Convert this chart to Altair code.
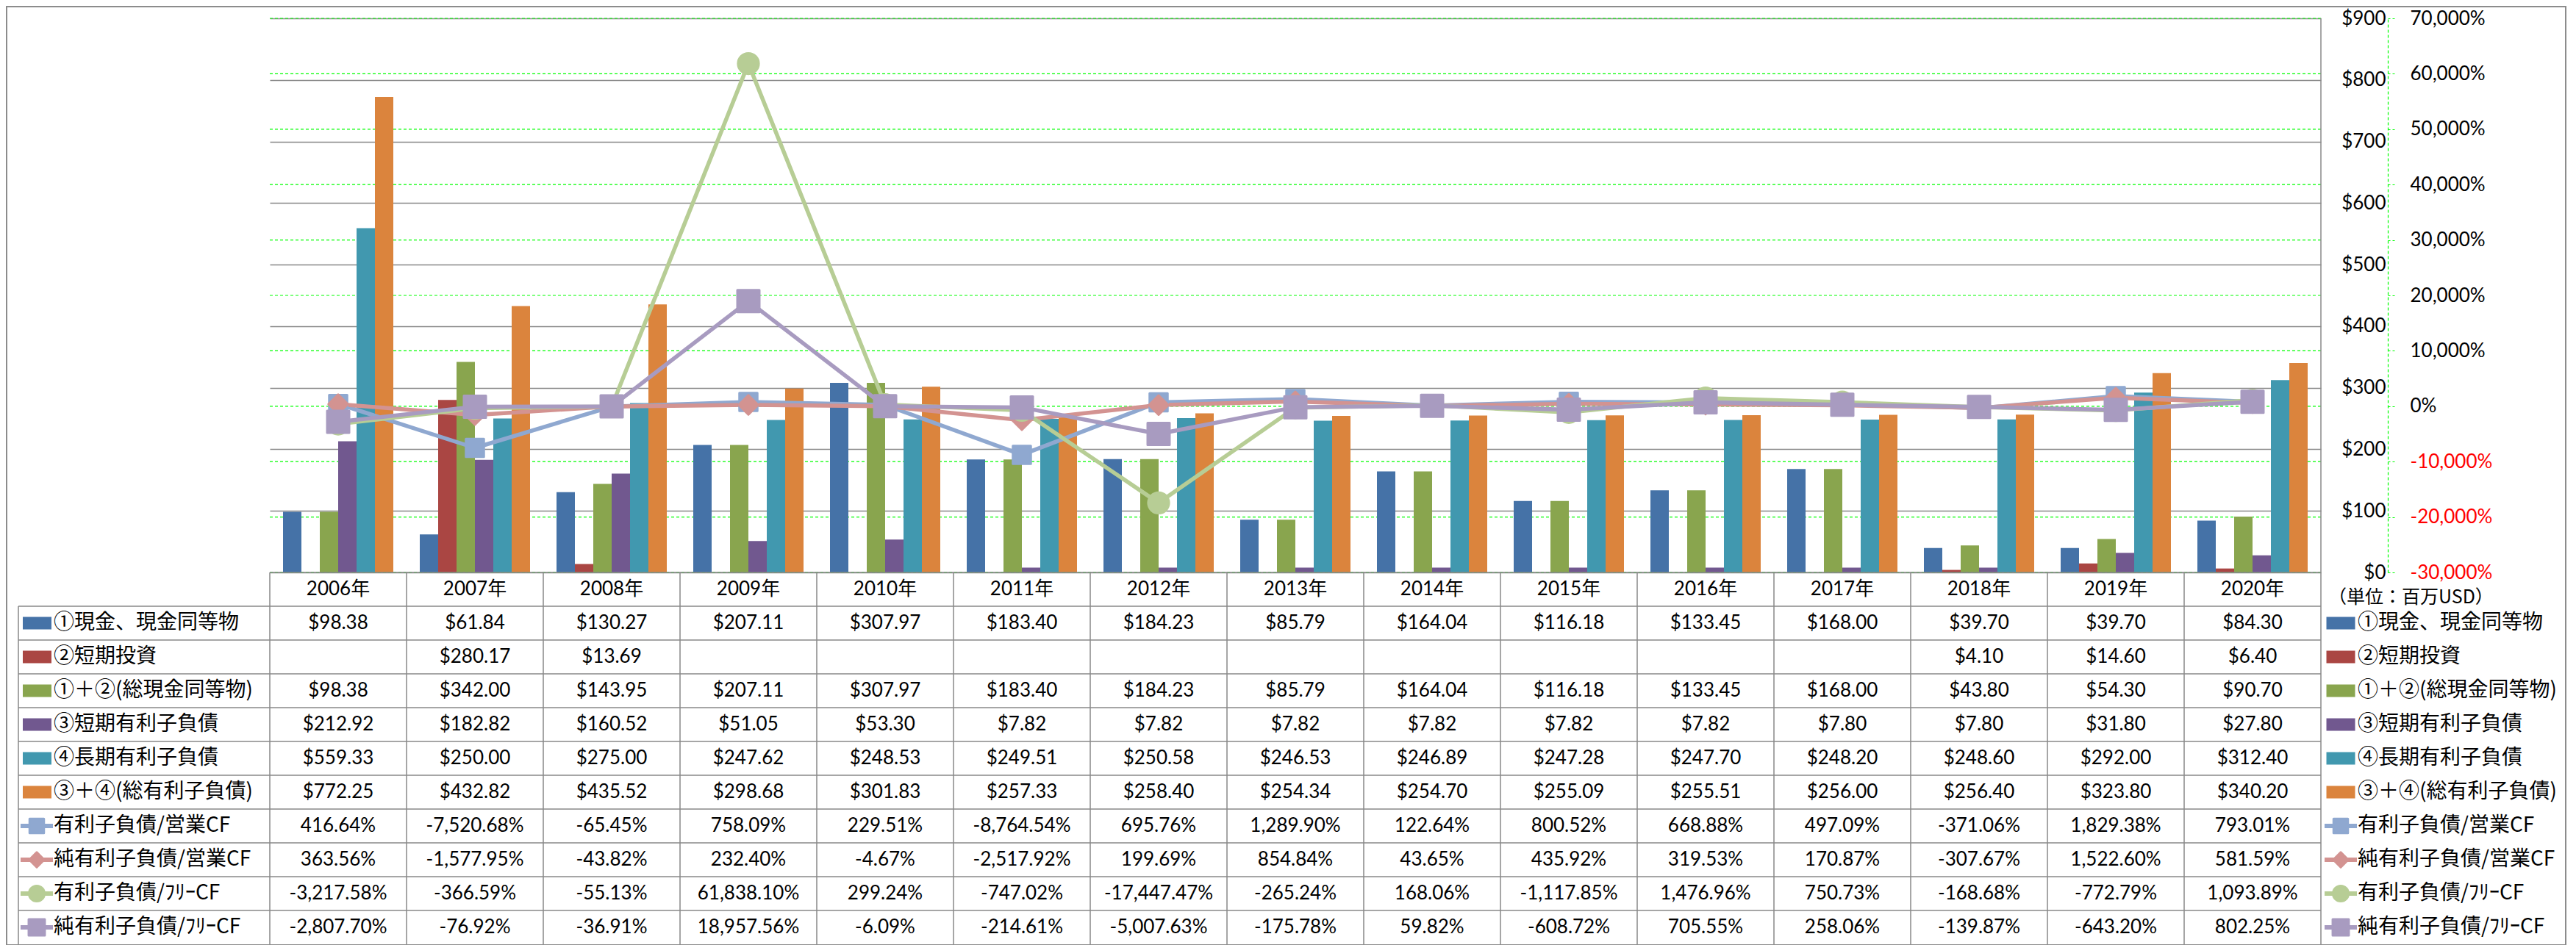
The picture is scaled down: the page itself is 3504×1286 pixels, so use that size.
import altair as alt
import pandas as pd

# ---------------- data ----------------
years = ["2006年", "2007年", "2008年", "2009年", "2010年", "2011年", "2012年", "2013年",
         "2014年", "2015年", "2016年", "2017年", "2018年", "2019年", "2020年"]

bar_series = ["①現金、現金同等物", "②短期投資", "①＋②(総現金同等物)",
              "③短期有利子負債", "④長期有利子負債", "③＋④(総有利子負債)"]
cash = [98.38, 61.84, 130.27, 207.11, 307.97, 183.40, 184.23, 85.79, 164.04, 116.18, 133.45, 168.00, 39.70, 39.70, 84.30]
short_inv = [None, 280.17, 13.69, None, None, None, None, None, None, None, None, None, 4.10, 14.60, 6.40]
total_cash = [98.38, 342.00, 143.95, 207.11, 307.97, 183.40, 184.23, 85.79, 164.04, 116.18, 133.45, 168.00, 43.80, 54.30, 90.70]
short_debt = [212.92, 182.82, 160.52, 51.05, 53.30, 7.82, 7.82, 7.82, 7.82, 7.82, 7.82, 7.80, 7.80, 31.80, 27.80]
long_debt = [559.33, 250.00, 275.00, 247.62, 248.53, 249.51, 250.58, 246.53, 246.89, 247.28, 247.70, 248.20, 248.60, 292.00, 312.40]
total_debt = [772.25, 432.82, 435.52, 298.68, 301.83, 257.33, 258.40, 254.34, 254.70, 255.09, 255.51, 256.00, 256.40, 323.80, 340.20]
bar_values = [cash, short_inv, total_cash, short_debt, long_debt, total_debt]

line_series = ["有利子負債/営業CF", "純有利子負債/営業CF", "有利子負債/ﾌﾘｰCF", "純有利子負債/ﾌﾘｰCF"]
debt_ocf = [416.64, -7520.68, -65.45, 758.09, 229.51, -8764.54, 695.76, 1289.90, 122.64, 800.52, 668.88, 497.09, -371.06, 1829.38, 793.01]
net_debt_ocf = [363.56, -1577.95, -43.82, 232.40, -4.67, -2517.92, 199.69, 854.84, 43.65, 435.92, 319.53, 170.87, -307.67, 1522.60, 581.59]
debt_fcf = [-3217.58, -366.59, -55.13, 61838.10, 299.24, -747.02, -17447.47, -265.24, 168.06, -1117.85, 1476.96, 750.73, -168.68, -772.79, 1093.89]
net_debt_fcf = [-2807.70, -76.92, -36.91, 18957.56, -6.09, -214.61, -5007.63, -175.78, 59.82, -608.72, 705.55, 258.06, -139.87, -643.20, 802.25]
line_values = [debt_ocf, net_debt_ocf, debt_fcf, net_debt_fcf]

dollar_ticks = [0, 100, 200, 300, 400, 500, 600, 700, 800, 900]
pct_ticks = [-30000, -20000, -10000, 0, 10000, 20000, 30000, 40000, 50000, 60000, 70000]
unit_label = "（単位：百万USD）"

# ---------------- styles ----------------
bar_colors = ["#4572A7", "#AA4643", "#89A54E", "#71588F", "#4198AF", "#DB843D"]
line_colors = ["#8FA8D0", "#D39391", "#B7CD95", "#A89BC0"]
line_shapes = ["square", "diamond", "circle", "square"]
marker_sizes = [600, 900, 650, 600]
legend_marker_sizes = [380, 480, 420, 380]
NUM_FONT = "Lato, 'Noto Sans CJK JP'"
JP_FONT = "'Noto Sans CJK JP'"
GRID_GRAY = "#888888"

W = 2790
H = 754
TABLE_BOTTOM = 1260
TOP = 17

# ---------------- tables ----------------
bars_df = pd.DataFrame([
    {"year": y, "series": s, "value": v}
    for s, vals in zip(bar_series, bar_values)
    for y, v in zip(years, vals) if v is not None
])
lines_df = pd.DataFrame([
    {"year": y, "series": s, "value": v}
    for s, vals in zip(line_series, line_values)
    for y, v in zip(years, vals)
])

rows = []
for y in years:
    rows.append({"row": "__hdr__", "year": y, "text": y})
for s, vals in zip(bar_series, bar_values):
    for y, v in zip(years, vals):
        rows.append({"row": s, "year": y, "text": "" if v is None else f"${v:,.2f}"})
for s, vals in zip(line_series, line_values):
    for y, v in zip(years, vals):
        rows.append({"row": s, "year": y, "text": f"{v:,.2f}%"})
table_df = pd.DataFrame(rows)

row_keys = ["__hdr__"] + bar_series + line_series
labels_df = pd.DataFrame({"row": bar_series + line_series})
bar_leg_df = pd.DataFrame({"series": bar_series})
line_leg_df = pd.DataFrame({"series": line_series})
years_df = pd.DataFrame({"year": years})
pct_df = pd.DataFrame({"v": pct_ticks})
one = pd.DataFrame({"t": [unit_label]})

# ---------------- scales ----------------
X_SCALE = alt.Scale(type="band", domain=years, paddingInner=0, paddingOuter=0)
ROW_SCALE = alt.Scale(type="band", domain=row_keys, range=[H, TABLE_BOTTOM], paddingInner=0, paddingOuter=0)
BAR_COLOR = alt.Scale(domain=bar_series, range=bar_colors)
LINE_COLOR = alt.Scale(domain=line_series, range=line_colors)
SHAPE = alt.Scale(domain=line_series, range=line_shapes)
PCT_SCALE = alt.Scale(domain=[-30000, 70000], nice=False, zero=False)


def xenc(bp=None):
    if bp is None:
        return alt.X("year:N", scale=X_SCALE, axis=None)
    return alt.X("year:N", scale=X_SCALE, axis=None, bandPosition=bp)


def yrow(bp=0.5):
    return alt.Y("row:N", scale=ROW_SCALE, axis=None, bandPosition=bp)


dollar_axis = alt.Axis(
    orient="right", values=dollar_ticks, format="$,.0f", grid=True, gridColor=GRID_GRAY,
    gridWidth=1.5, domain=False, ticks=False, tickSize=0, labelPadding=88, labelAlign="right",
    labelFont=NUM_FONT, labelFontSize=26, labelColor="#000000", labelOverlap=False, title=None)

pct_axis = alt.Axis(
    orient="right", offset=91, values=pct_ticks,
    labelExpr="replace(format(datum.value, ','), '\u2212', '-') + '%'",
    grid=False,
    domain=True, domainColor="#00FF00", domainDash=[4, 3], domainWidth=1.2,
    ticks=True, tickColor="#00FF00", tickSize=10, tickWidth=1.2, tickDash=[3, 3],
    labelPadding=20, labelAlign="left", labelFont=NUM_FONT, labelFontSize=26,
    labelColor={"condition": {"test": "datum.value < 0", "value": "#FF0000"}, "value": "#000000"},
    labelOverlap=False, title=None)

# ---------------- plot layers ----------------
pct_grid = alt.Chart(pct_df).mark_rule(color="#00FF00", strokeWidth=1.2, strokeDash=[4, 3]).encode(
    x=alt.value(0), x2=alt.value(W),
    y=alt.Y("v:Q", scale=PCT_SCALE, axis=None))

bars = alt.Chart(bars_df).mark_bar().encode(
    x=xenc(),
    xOffset=alt.XOffset("series:N", scale=alt.Scale(domain=bar_series, paddingInner=0, paddingOuter=0.72)),
    y=alt.Y("value:Q", scale=alt.Scale(domain=[0, 900], nice=False), axis=dollar_axis),
    color=alt.Color("series:N", scale=BAR_COLOR, legend=None),
)

lines = alt.Chart(lines_df).mark_line(strokeWidth=5.5, strokeJoin="round").encode(
    x=xenc(0.5),
    y=alt.Y("value:Q", scale=PCT_SCALE, axis=pct_axis),
    color=alt.Color("series:N", scale=LINE_COLOR, legend=None),
)

points = alt.Chart(lines_df).mark_point(filled=True, opacity=1, strokeWidth=3, strokeJoin="round").encode(
    x=xenc(0.5),
    y=alt.Y("value:Q", scale=PCT_SCALE, axis=None),
    color=alt.Color("series:N", scale=LINE_COLOR, legend=None),
    stroke=alt.Stroke("series:N", scale=LINE_COLOR, legend=None),
    shape=alt.Shape("series:N", scale=SHAPE, legend=None),
    size=alt.Size("series:N", scale=alt.Scale(domain=line_series, range=marker_sizes), legend=None),
)

# ---------------- table layers ----------------
cells = alt.Chart(table_df).mark_text(font=NUM_FONT, fontSize=26, baseline="middle", align="center",
                                      color="#000000").encode(
    x=xenc(0.5), y=yrow(0.5), text="text:N")

hlines = alt.Chart(labels_df).mark_rule(color=GRID_GRAY, strokeWidth=1.5).encode(
    x=alt.value(-342), x2=alt.value(W), y=yrow(0))
hdr_top = alt.Chart(one).mark_rule(color=GRID_GRAY, strokeWidth=1.5).encode(
    x=alt.value(0), x2=alt.value(W), y=alt.value(H))
vlines = alt.Chart(years_df).mark_rule(color=GRID_GRAY, strokeWidth=1.5).encode(
    x=xenc(0), y=alt.value(H), y2=alt.value(TABLE_BOTTOM))
right_edge = alt.Chart(one).mark_rule(color=GRID_GRAY, strokeWidth=1.5).encode(
    x=alt.value(W), y=alt.value(0), y2=alt.value(TABLE_BOTTOM))
left_edge = alt.Chart(one).mark_rule(color=GRID_GRAY, strokeWidth=1.5).encode(
    x=alt.value(-342), y=alt.value(H + 46), y2=alt.value(TABLE_BOTTOM))

row_labels_left = alt.Chart(labels_df).mark_text(font=JP_FONT, fontSize=28, align="left",
                                                  baseline="middle", color="#000000").encode(
    x=alt.value(-294), y=yrow(0.5), text="row:N")
row_labels_right = alt.Chart(labels_df).mark_text(font=JP_FONT, fontSize=28, align="left",
                                                   baseline="middle", color="#000000").encode(
    x=alt.value(2840), y=yrow(0.5), text="row:N")

SWATCH = "M-1,-0.436H1V0.436H-1Z"


def bar_swatch(xc):
    return alt.Chart(bar_leg_df).transform_calculate(row="datum.series").mark_point(
        shape=SWATCH, filled=True, opacity=1, size=1521).encode(
        x=alt.value(xc), y=yrow(0.5),
        color=alt.Color("series:N", scale=BAR_COLOR, legend=None))


def line_swatch(x1, x2, xc):
    seg = alt.Chart(line_leg_df).transform_calculate(row="datum.series").mark_rule(strokeWidth=6).encode(
        x=alt.value(x1), x2=alt.value(x2), y=yrow(0.5),
        color=alt.Color("series:N", scale=LINE_COLOR, legend=None))
    mk = alt.Chart(line_leg_df).transform_calculate(row="datum.series").mark_point(
        filled=True, opacity=1, strokeWidth=3, strokeJoin="round").encode(
        x=alt.value(xc), y=yrow(0.5),
        color=alt.Color("series:N", scale=LINE_COLOR, legend=None),
        stroke=alt.Stroke("series:N", scale=LINE_COLOR, legend=None),
        shape=alt.Shape("series:N", scale=SHAPE, legend=None),
        size=alt.Size("series:N", scale=alt.Scale(domain=line_series, range=legend_marker_sizes), legend=None))
    return [seg, mk]


unit_text = alt.Chart(one).mark_text(font=JP_FONT, fontSize=25, align="left", baseline="middle",
                                     color="#000000").encode(
    x=alt.value(2800), y=alt.value(H + 34), text="t:N")

frame = alt.Chart(one).mark_rect(filled=False, stroke="#8C8C8C", strokeWidth=2).encode(
    x=alt.value(-358), x2=alt.value(W + 333), y=alt.value(-TOP + 1), y2=alt.value(TABLE_BOTTOM + 1))

layers = [pct_grid, bars, lines, points, hlines, hdr_top, vlines, right_edge, left_edge, cells,
          row_labels_left, row_labels_right, bar_swatch(-316.5), bar_swatch(2817)]
layers += line_swatch(-339, -295, -317)
layers += line_swatch(2795, 2839, 2817)
layers += [unit_text, frame]

chart = alt.layer(*layers).resolve_scale(
    y="independent", color="independent", stroke="independent", shape="independent", size="independent"
).properties(
    width=W, height=H,
    autosize=alt.AutoSizeParams(type="none"),
    padding={"left": 359, "top": TOP, "right": 335, "bottom": TABLE_BOTTOM - H + 2},
    background="#FFFFFF",
).configure_view(strokeWidth=0)

chart.save("out.html", embed_options={"renderer": "svg", "actions": False})
